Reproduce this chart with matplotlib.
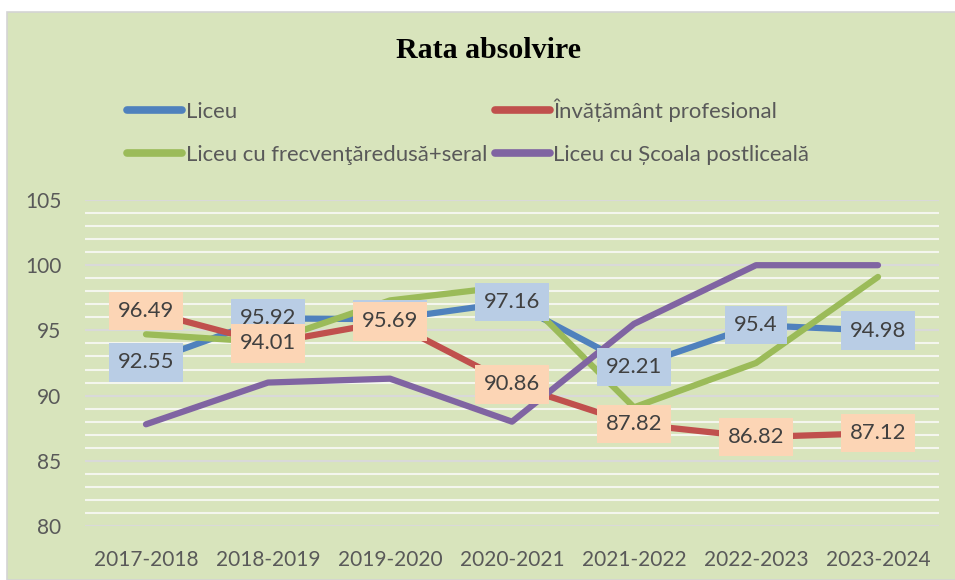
import matplotlib.pyplot as plt
from matplotlib.patches import Rectangle
from matplotlib.ticker import MultipleLocator

# date
ani = ["2017-2018", "2018-2019", "2019-2020", "2020-2021", "2021-2022", "2022-2023", "2023-2024"]
liceu = [92.55, 95.92, 95.86, 97.16, 92.21, 95.4, 94.98]
profesional = [96.49, 94.01, 95.69, 90.86, 87.82, 86.82, 87.12]
redusa_seral = [94.7, 94.1, 97.3, 98.4, 89.1, 92.5, 99.1]
postliceala = [87.8, 91.0, 91.3, 88.0, 95.5, 100.0, 100.0]

nume = ["Liceu", "Învățământ profesional",
        "Liceu cu frecvenţăredusă+seral", "Liceu cu Școala postliceală"]
culori = ["#4f81bd", "#c0504d", "#9bbb59", "#8064a2"]

font = ["Lato", "DejaVu Sans"]
plt.rcParams['font.family'] = font

W, H = 955, 580
fig = plt.figure(figsize=(W / 100, H / 100), dpi=100)
fig.patch.set_facecolor("white")
fundal = Rectangle((7 / W, 0), 1, 1 - 12 / H, transform=fig.transFigure,
                   facecolor="#d8e4bc", edgecolor="#d4d4d4", lw=1.2, zorder=-5)
fig.patches.append(fundal)

ax = fig.add_axes([85 / W, 1 - 526 / H, 854 / W, 326 / H], zorder=1)
ax.set_facecolor("none")
ax.set_xlim(-0.5, 6.5)
ax.set_ylim(80, 105)
ax.yaxis.set_major_locator(MultipleLocator(5))
ax.yaxis.set_minor_locator(MultipleLocator(1))
ax.grid(which="minor", axis="y", color="#f4f6ee", lw=1.5, zorder=0)
ax.grid(which="major", axis="y", color="#d9d9d9", lw=1.5, zorder=0)
ax.set_axisbelow(True)
for s in ax.spines.values():
    s.set_visible(False)
ax.tick_params(which="both", length=0, labelsize=15, colors="#595959")
ax.tick_params(axis="y", pad=17)
ax.tick_params(axis="x", pad=17)
x = list(range(len(ani)))
ax.set_xticks(x)
ax.set_xticklabels(ani)

serii = [liceu, profesional, redusa_seral, postliceala]
linii = []
for i, (y, n, c) in enumerate(zip(serii, nume, culori)):
    l, = ax.plot(x, y, color=c, lw=4.5, label=n, solid_capstyle="round",
                 solid_joinstyle="round", zorder=2 + i)
    linii.append(l)

# etichete de date
for y, fc, z in [(liceu, "#b9cde5", 10), (profesional, "#fcd5b5", 11)]:
    for xi, v in zip(x, y):
        ax.text(xi, v, f"{v:g}", ha="center", va="center", fontsize=15.8,
                color="#404040", zorder=z,
                bbox=dict(boxstyle="square,pad=0.42", fc=fc, ec="none"))

fig.text(488 / W, 1 - 51 / H, "Rata absolvire", ha="center", va="center",
         fontsize=21.5, fontweight="bold", family=["Liberation Serif", "DejaVu Serif"])

# legenda pe randuri: Liceu, Inv. prof. / seral, postliceala
ordine = [0, 2, 1, 3]
leg = fig.legend([linii[i] for i in ordine], [nume[i] for i in ordine],
                 loc="upper left", bbox_to_anchor=(127 / W, 1 - 98 / H), ncol=2,
                 frameon=False, fontsize=15.9, handlelength=2.5, handletextpad=0.15,
                 columnspacing=0.35, labelspacing=1.05, borderpad=0, borderaxespad=0)
for t in leg.get_texts():
    t.set_color("#595959")
for h in leg.get_lines():
    h.set_linewidth(5.5)

fig.savefig("out.png", dpi=100)
